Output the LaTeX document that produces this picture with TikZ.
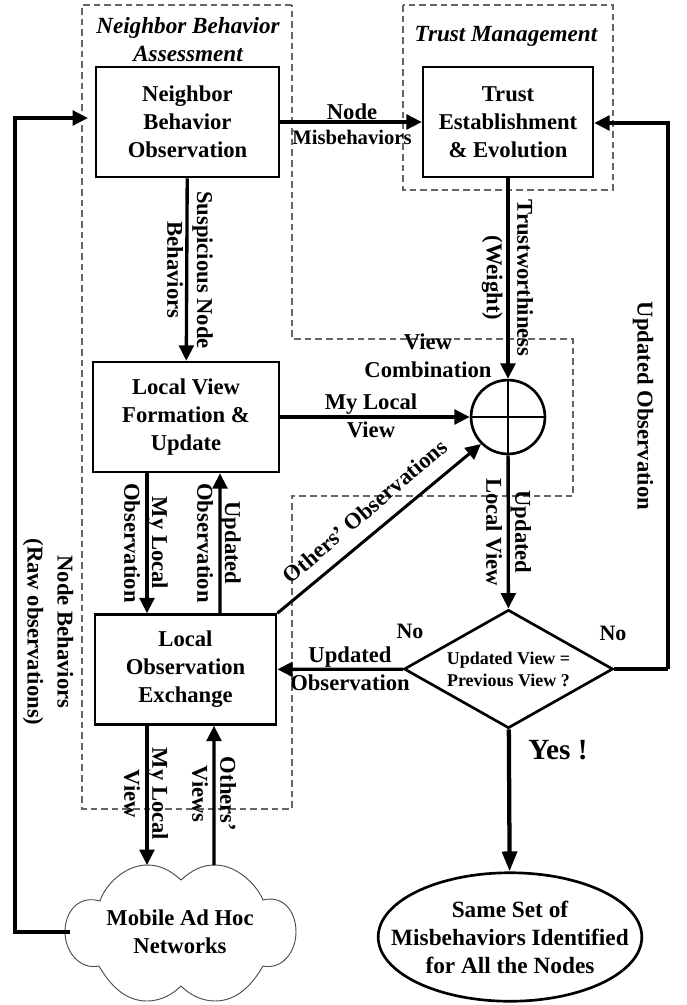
\documentclass[tikz,border=0pt]{standalone}
\usepackage{fontspec}
\setmainfont{Liberation Serif}
\usepackage{xcolor}
\usetikzlibrary{arrows.meta}
\usetikzlibrary{shapes.geometric}
\tikzset{
	flowbox/.style={draw,line width=2pt,align=center,font=\bfseries\fontsize{17}{21}\selectfont,minimum height=82.5pt,inner sep=0pt},
	flowline/.style={line width=2.5pt,-{Triangle[length=11.5pt,width=11pt]}},
	plainline/.style={line width=2.5pt},
	region/.style={draw=black!60,dash pattern=on 5pt off 3pt,line width=.8pt},
	lbl/.style={font=\bfseries\fontsize{17}{21}\selectfont,align=center,inner sep=0pt},
	title/.style={font=\bfseries\itshape\fontsize{17.4}{21}\selectfont,align=center,inner sep=0pt},
}
\begin{document}
\begin{tikzpicture}[x=0.0264cm,y=-0.0264cm]
	\useasboundingbox (0,0) rectangle (686,1005);
	% dashed regions
	\draw[region] (292,5) -- (82,5) -- (82,809) -- (292,809) -- (292,496) -- (573,496) -- (573,339) -- (292,339) -- cycle;
	\draw[region] (403,5) rectangle (613,190);
	\node[title] (tna) at (188,40) {Neighbor Behavior\\Assessment};
	\node[title] (ttm) at (506,36) {Trust Management};
	\node[lbl] (tvc) at (428,356) {View\\Combination};
	% boxes
	\node[flowbox,minimum width=137.5pt] (obs) at (187.5,122) {Neighbor\\Behavior\\Observation};
	\node[flowbox,minimum width=127.5pt] (trust) at (508,122) {Trust\\Establishment\\\& Evolution};
	\node[flowbox,minimum width=139.5pt] (form) at (186,417) {Local View\\Formation \&\\Update};
	\node[flowbox,minimum width=136pt] (exch) at (185.5,669.5) {Local\\Observation\\Exchange};
	\node[draw,circle,line width=2pt,minimum size=55.5pt,inner sep=0pt] (comb) at (508,417) {};
	\draw[line width=1.6pt] (comb.north) -- (comb.south);
	\draw[line width=1.6pt] (comb.west) -- (comb.east);
	\node[draw,diamond,line width=2pt,minimum width=157pt,minimum height=89pt,inner sep=0pt] (same) at (508.5,669) {};
	\node[lbl,font=\bfseries\fontsize{13.5}{16.5}\selectfont] (samet) at (same) {Updated View =\\Previous View ?};
	\node[draw,ellipse,line width=2pt,minimum width=198pt,minimum height=96.5pt,inner sep=0pt] (res) at (510,937) {};
	\node[lbl,font=\bfseries\fontsize{17.5}{21}\selectfont] (rest) at (res) {Same Set of\\Misbehaviors Identified\\for All the Nodes};
	% cloud
	\draw[line width=.7pt,black!70] (181,880) .. controls (170,870) and (160,865) .. (147,865)
		.. controls (125,865) and (105,885) .. (100,901)
		.. controls (80,895) and (65,910) .. (65,932)
		.. controls (65,952) and (80,970) .. (99,966)
		.. controls (110,985) and (125,1001) .. (147,1001)
		.. controls (160,1001) and (172,995) .. (181,986)
		.. controls (190,995) and (202,1001) .. (215,1001)
		.. controls (237,1001) and (252,985) .. (263,966)
		.. controls (282,970) and (296,952) .. (296,932)
		.. controls (296,910) and (282,895) .. (263,900)
		.. controls (257,885) and (237,865) .. (215,865)
		.. controls (202,865) and (192,870) .. cycle;
	\node[lbl] (net) at (180,932) {Mobile Ad Hoc\\Networks};
	\coordinate (netdown) at (147,865);
	\coordinate (netup) at (214,865);
	\coordinate (netleft) at (70,932);
	\coordinate (cornerA) at (15,932);
	\coordinate (cornerB) at (15,118);
	\coordinate (cornerC) at (668,669);
	\coordinate (cornerD) at (668,123);
	% arrows
	\draw[flowline] (obs) -- (trust);
	\draw[flowline] (obs) -- (form);
	\draw[flowline] (trust) -- (comb);
	\draw[flowline] (form) -- (comb);
	\draw[flowline] (comb) -- (same);
	\draw[flowline] ([shift={(-39,0)}]form.south) -- ([shift={(-38.5,0)}]exch.north);
	\draw[flowline] ([shift={(34.5,0)}]exch.north) -- ([shift={(34,0)}]form.south);
	\draw[flowline,line width=2.25pt] (exch.north east) -- (comb.south west);
	\draw[flowline] (same) -- (exch);
	\draw[flowline,line width=3.2pt,-{Triangle[length=15pt,width=11pt]}] (same) -- (res);
	\draw[plainline] (same.east) -- (cornerC);
	\draw[flowline] (cornerC) -- (cornerD) -- (trust.east |- cornerD);
	\draw[flowline] ([shift={(-38.5,0)}]exch.south) -- (netdown);
	\draw[flowline] (netup) -- ([shift={(28.5,0)}]exch.south);
	\draw[flowline] (netleft) -- (cornerA) -- (cornerB) -- (88,118);
	% labels
	\node[lbl] (lnode) at (352,124) {Node\\[-2pt]{\fontsize{15.5}{15.5}\selectfont Misbehaviors}};
	\node[lbl,rotate=-90] (lsusp) at (190,270) {Suspicious Node\\[1.5pt]Behaviors};
	\node[lbl,rotate=-90] (ltrust) at (507.5,278) {Trustworthiness\\[2pt](Weight)};
	\node[lbl,rotate=-90] (lupd) at (643,406) {Updated Observation};
	\node[lbl] (lmy) at (371,416) {My Local\\View};
	\node[lbl,rotate=-90] (lulv) at (508.5,532) {Updated\\[.75pt]Local View};
	\node[lbl,rotate=-90] (lmyobs) at (146,543) {My Local\\Observation};
	\node[lbl,rotate=-90] (lupdobs) at (219,543) {Updated\\Observation};
	\node[lbl,rotate=40.5] (loth) at (365,511) {Others’ Observations};
	\node[lbl] (lupdh) at (350,669) {Updated\\Observation};
	\node[lbl,font=\bfseries\fontsize{16.5}{20}\selectfont] (lnol) at (410,631) {No};
	\node[lbl,font=\bfseries\fontsize{16.5}{20}\selectfont] (lnor) at (613,633) {No};
	\node[lbl,font=\bfseries\fontsize{22}{26}\selectfont] (lyes) at (558,750) {Yes !};
	\node[lbl,rotate=-90] (lraw) at (48,632) {Node Behaviors\\[1.5pt](Raw observations)};
	\node[lbl,rotate=-90] (lmyv) at (146,794) {My Local\\View};
	\node[lbl,rotate=-90] (lothv) at (214,794) {Others’\\Views};
\end{tikzpicture}
\end{document}
